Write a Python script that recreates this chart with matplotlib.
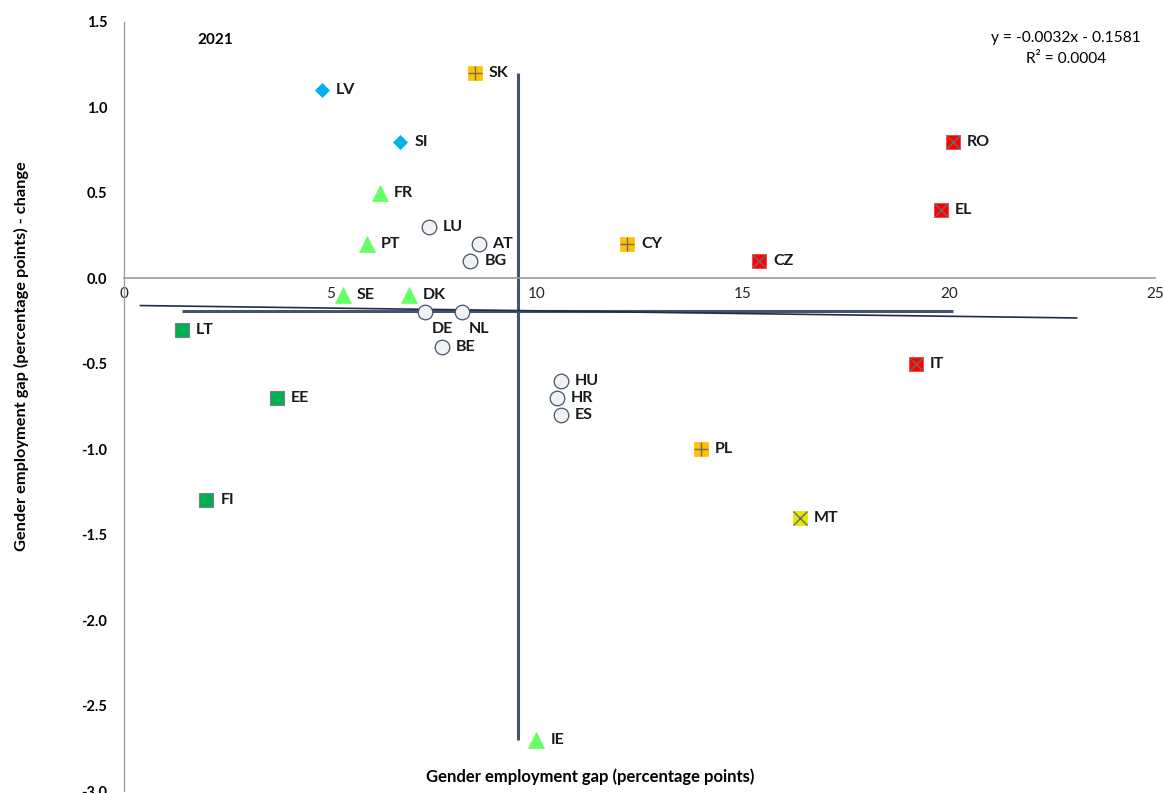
import numpy as np
import matplotlib
matplotlib.use("Agg")
import matplotlib.pyplot as plt

plt.rcParams['font.family'] = ['Lato', 'DejaVu Sans']

countries = ['LV', 'SI', 'SK', 'FR', 'LU', 'PT', 'AT', 'BG', 'CY', 'RO', 'EL', 'CZ',
             'SE', 'DK', 'DE', 'NL', 'LT', 'BE', 'IT', 'HU', 'HR', 'ES', 'EE', 'PL',
             'FI', 'MT', 'IE']
gap = [4.8, 6.7, 8.5, 6.2, 7.4, 5.9, 8.6, 8.4, 12.2, 20.1, 19.8, 15.4,
       5.3, 6.9, 7.3, 8.2, 1.4, 7.7, 19.2, 10.6, 10.5, 10.6, 3.7, 14.0,
       2.0, 16.4, 10.0]
change = [1.1, 0.8, 1.2, 0.5, 0.3, 0.2, 0.2, 0.1, 0.2, 0.8, 0.4, 0.1,
          -0.1, -0.1, -0.2, -0.2, -0.3, -0.4, -0.5, -0.6, -0.7, -0.8, -0.7, -1.0,
          -1.3, -1.4, -2.7]
group = ['diamond', 'diamond', 'orange', 'tri', 'circle', 'tri', 'circle', 'circle',
         'orange', 'red', 'red', 'red', 'tri', 'tri', 'circle', 'circle', 'green',
         'circle', 'red', 'circle', 'circle', 'circle', 'green', 'orange', 'green',
         'yellow', 'tri']

trend_slope = -0.0032
trend_intercept = -0.1581
trend_backward = 1
trend_forward = 3
x_ticks = [0, 5, 10, 15, 20, 25]
y_ticks = [1.5, 1.0, 0.5, 0.0, -0.5, -1.0, -1.5, -2.0, -2.5, -3.0]

styles = {
    'diamond': dict(marker='D', ms=7.5, mfc='#00B0F0', mec='#00B0F0', mew=0.5, over=None),
    'orange': dict(marker='s', ms=10, mfc='#FFC000', mec='#FFC000', mew=0.5, over='+'),
    'tri': dict(marker='^', ms=11, mfc='#66FF66', mec='#66FF66', mew=0.5, over=None),
    'circle': dict(marker='o', ms=10.5, mfc='#F2F2F2', mec='#44546A', mew=0.9, over=None),
    'red': dict(marker='s', ms=10, mfc='#FF0000', mec='#FF3333', mew=0.5, over='x'),
    'green': dict(marker='s', ms=10, mfc='#00B050', mec='#7F7F7F', mew=0.8, over=None),
    'yellow': dict(marker='s', ms=10, mfc='#E6E600', mec='#E6E600', mew=0.5, over='x'),
}

label_offsets = {'DE': (5, -7), 'NL': (5, -7)}

fig = plt.figure(figsize=(11.63, 7.93), dpi=100)
ax = fig.add_axes([0.1066, 0.0025, 0.8865, 0.9698])
ax.set_xlim(0, 25)
ax.set_ylim(-3.0, 1.5)

# axis lines through origin
ax.spines['top'].set_visible(False)
ax.spines['right'].set_visible(False)
ax.spines['bottom'].set_position(('data', 0))
ax.spines['left'].set_position(('data', 0))
ax.spines['bottom'].set_color('#9A9A9A')
ax.spines['bottom'].set_linewidth(1.2)
ax.spines['left'].set_color('#9A9A9A')
ax.spines['left'].set_linewidth(0.9)
ax.set_xticks(x_ticks)
ax.set_xticklabels([str(t) for t in x_ticks], fontsize=11, color='#262626')
ax.set_yticks(y_ticks)
ax.set_yticklabels([f'{t:.1f}' for t in y_ticks], fontsize=10.5, fontweight='bold')
ax.tick_params(axis='x', length=0, pad=6)
ax.tick_params(axis='y', length=0, pad=12)

gx = np.array(gap)
cy = np.array(change)

# mean lines
mx, my = gx.mean(), cy.mean()
ax.plot([mx, mx], [cy.min(), cy.max()], color='#44546A', lw=2.2, zorder=2, solid_capstyle='butt')
ax.plot([gx.min(), gx.max()], [my, my], color='#44546A', lw=2.2, zorder=2, solid_capstyle='butt')

# trendline
tx = np.array([gx.min() - trend_backward, gx.max() + trend_forward])
ax.plot(tx, trend_slope * tx + trend_intercept, color='#1F2D4A', lw=1.2, zorder=2)

for c, x, y, g in zip(countries, gap, change, group):
    st = styles[g]
    ax.plot([x], [y], linestyle='none', marker=st['marker'], ms=st['ms'],
            mfc=st['mfc'], mec=st['mec'], mew=st['mew'], zorder=4)
    if st['over']:
        ax.plot([x], [y], linestyle='none', marker=st['over'], ms=st['ms'] * 0.95,
                mec='#6B6B6B', mew=1.0, zorder=5)
    off = label_offsets.get(c, (10, 0))
    ax.annotate(c, (x, y), xytext=off, textcoords='offset points',
                ha='left', va='center' if c not in label_offsets else 'top',
                fontsize=11.5, fontweight='bold', color='#1A1A1A', zorder=6)

fig.text(215 / 1163, 1 - 40 / 793, '2021', ha='center', va='center',
         fontsize=11, fontweight='bold')
fig.text(1066 / 1163, 1 - 38 / 793, f'y = {trend_slope:.4f}x - {abs(trend_intercept):.4f}',
         ha='center', va='center', fontsize=11.2)
fig.text(1066 / 1163, 1 - 59 / 793, 'R² = 0.0004', ha='center', va='center', fontsize=11.2)
fig.text(590 / 1163, 1 - 777 / 793, 'Gender employment gap (percentage points)',
         ha='center', va='center', fontsize=12, fontweight='bold')
fig.text(21 / 1163, 1 - 356 / 793, 'Gender employment gap (percentage points) - change',
         ha='center', va='center', rotation=90, fontsize=11.8, fontweight='bold')

fig.savefig('out.png', dpi=100)
